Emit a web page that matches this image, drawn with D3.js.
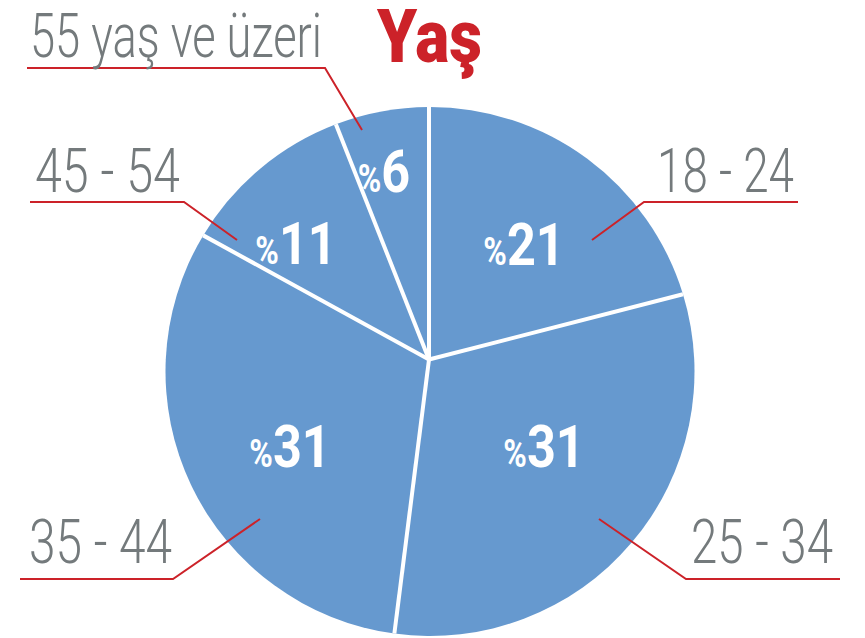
<!DOCTYPE html>
<html>
<head>
<meta charset="utf-8">
<script src="https://cdn.jsdelivr.net/npm/d3@7"></script>
<style>
  html, body { margin: 0; padding: 0; background: #fff; }
  svg { display: block; }
</style>
</head>
<body>
<svg id="chart" width="865" height="638"></svg>
<script>
// ---- data ----
const categories = ["18 - 24", "25 - 34", "35 - 44", "45 - 54", "55 yaş ve üzeri"];
const values = [21, 31, 31, 11, 6];
const valuePrefix = "%";
const title = "Yaş";

// ---- layout (annotation positions, not data) ----
const labelLayout = [
  { x: 657, y: 192, w: 137, line: [[592, 240], [644, 202], [798, 202]] },
  { x: 691, y: 563, w: 142, line: [[599, 519], [686, 579], [840, 579]] },
  { x: 29,  y: 563, w: 143, line: [[260, 519], [173, 579], [20, 579]] },
  { x: 35,  y: 192, w: 145, line: [[237, 240], [184, 202], [30, 202]] },
  { x: 30,  y: 57,  w: 292, line: [[362, 130], [325, 68], [27, 68]] }
];
const valueLayout = [
  { x: 524, y: 265 },
  { x: 544, y: 467 },
  { x: 290, y: 467 },
  { x: 296, y: 264 },
  { x: 384, y: 192 }
];

const svg = d3.select("#chart");
const C = { x: 430, y: 371.5 }, R = 264.5, V = { x: 429, y: 359.5 };
const blue = "#6699CF", red = "#CC2229", grey = "#747A7C";

const arcs = d3.pie().sort(null).value(d => d)(values);

function rayPoint(a) {
  const dx = Math.sin(a), dy = -Math.cos(a);
  const ox = V.x - C.x, oy = V.y - C.y;
  const b = ox * dx + oy * dy;
  const t = -b + Math.sqrt(b * b - (ox * ox + oy * oy) + R * R);
  return [V.x + t * dx, V.y + t * dy];
}
function slicePath(d) {
  const p0 = rayPoint(d.startAngle), p1 = rayPoint(d.endAngle);
  const p = d3.path();
  p.moveTo(V.x, V.y);
  p.lineTo(p0[0], p0[1]);
  p.arc(C.x, C.y, R, Math.atan2(p0[1] - C.y, p0[0] - C.x), Math.atan2(p1[1] - C.y, p1[0] - C.x), false);
  p.closePath();
  return p.toString();
}

svg.append("g").selectAll("path").data(arcs).join("path")
  .attr("d", slicePath)
  .attr("fill", blue);

// separators
svg.append("g").selectAll("line").data(arcs).join("line")
  .attr("x1", V.x).attr("y1", V.y)
  .attr("x2", d => rayPoint(d.startAngle)[0])
  .attr("y2", d => rayPoint(d.startAngle)[1])
  .attr("stroke", "#fff").attr("stroke-width", 4).attr("stroke-linecap", "butt");

// leader lines
svg.append("g").selectAll("polyline").data(labelLayout).join("polyline")
  .attr("points", d => d.line.map(p => p.join(",")).join(" "))
  .attr("fill", "none").attr("stroke", red).attr("stroke-width", 2);

// category labels
svg.append("g").selectAll("text").data(categories).join("text")
  .attr("x", (d, i) => labelLayout[i].x)
  .attr("y", (d, i) => labelLayout[i].y)
  .attr("textLength", (d, i) => labelLayout[i].w)
  .attr("lengthAdjust", "spacingAndGlyphs")
  .attr("font-family", "Roboto, 'Liberation Sans', sans-serif")
  .attr("font-weight", 300)
  .attr("font-size", (d, i) => i === 4 ? 62 : 61)
  .attr("fill", grey)
  .text(d => d);

// value labels
const vl = svg.append("g").selectAll("g").data(values).join("g")
  .attr("transform", (d, i) => `translate(${valueLayout[i].x},${valueLayout[i].y}) scale(0.84,1)`);
const vt = vl.append("text")
  .attr("text-anchor", "middle")
  .attr("font-family", "Roboto, 'Liberation Sans', sans-serif")
  .attr("font-weight", 700)
  .attr("fill", "#fff");
vt.append("tspan").attr("font-size", 38).text(valuePrefix);
vt.append("tspan").attr("font-size", 60).text(d => d);

// title
svg.append("text")
  .attr("x", 377).attr("y", 62)
  .attr("textLength", 105).attr("lengthAdjust", "spacingAndGlyphs")
  .attr("font-family", "Roboto, 'Liberation Sans', sans-serif")
  .attr("font-weight", 900)
  .attr("font-size", 75)
  .attr("fill", red)
  .text(title);
</script>
</body>
</html>
